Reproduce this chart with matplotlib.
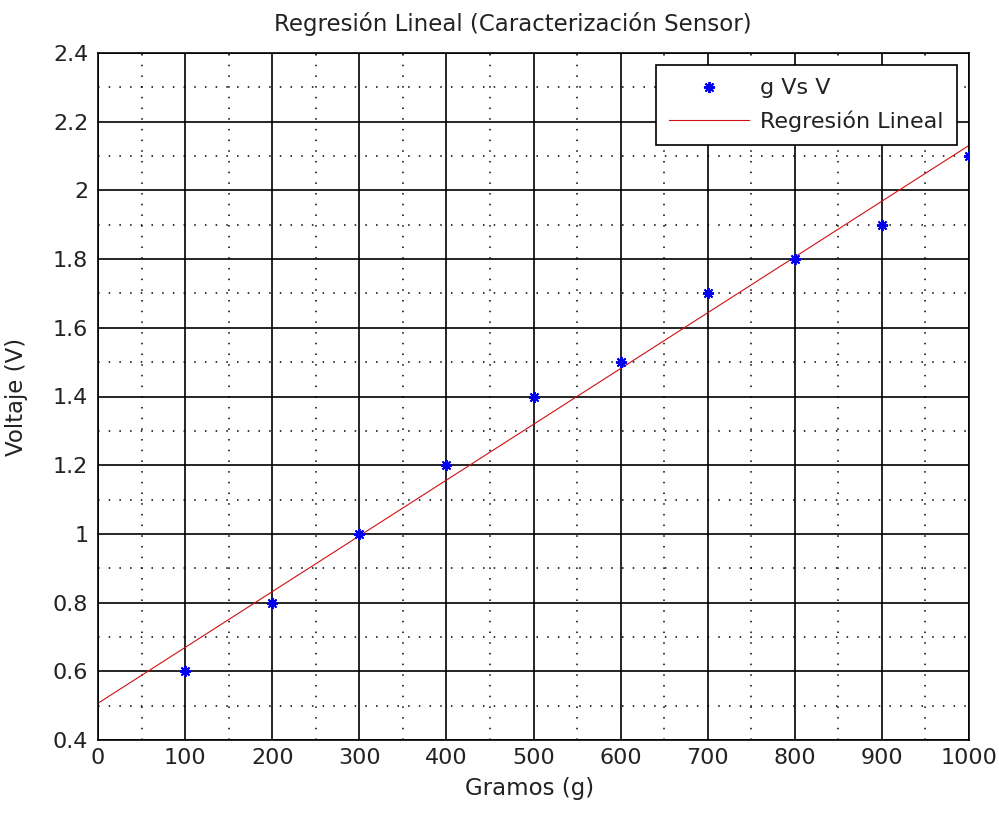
import numpy as np
import matplotlib
matplotlib.use('Agg')
import matplotlib.pyplot as plt
from matplotlib.ticker import MultipleLocator

plt.rcParams['font.family'] = ['DejaVu Sans']

# measured points
gramos = [100, 200, 300, 400, 500, 600, 700, 800, 900, 1000]
voltaje = [0.6, 0.8, 1.0, 1.2, 1.4, 1.5, 1.7, 1.8, 1.9, 2.1]

# regression line end points
fit_x = [0, 1000]
fit_y = [0.507, 2.131]

ytick_vals = [0.4, 0.6, 0.8, 1.0, 1.2, 1.4, 1.6, 1.8, 2.0, 2.2, 2.4]
ytick_text = ['0.4', '0.6', '0.8', '1', '1.2', '1.4', '1.6', '1.8', '2', '2.2', '2.4']

fig = plt.figure(figsize=(9.99, 8.14), dpi=100)
ax = fig.add_axes([98/999, 1 - 740/814, 871/999, 687/814])

ax.plot(gramos, voltaje, linestyle='none', marker=(8, 2, 0), markersize=8,
        markeredgewidth=1.4, color='#0000ee', label='g Vs V', zorder=3)
ax.plot(fit_x, fit_y, color='#d01010', linewidth=0.8, label='Regresión Lineal', zorder=2)

ax.set_xlim(0, 1000)
ax.set_ylim(0.4, 2.4)
ax.xaxis.set_major_locator(MultipleLocator(100))
ax.xaxis.set_minor_locator(MultipleLocator(50))
ax.set_yticks(ytick_vals)
ax.set_yticklabels(ytick_text)
ax.yaxis.set_minor_locator(MultipleLocator(0.1))

ax.grid(which='major', color='black', linestyle='-', linewidth=1.2)
ax.grid(which='minor', color='black', linestyle=(0, (1, 6)), linewidth=1.1)
ax.tick_params(which='both', direction='in', length=0, labelsize=16, labelcolor='#222222')
ax.tick_params(axis='x', pad=6)
ax.tick_params(axis='y', pad=7)
for s in ax.spines.values():
    s.set_linewidth(1.2)

ax.set_title('Regresión Lineal (Caracterización Sensor)', fontsize=16.5, pad=16,
             x=0.476, color='#222222')
ax.set_xlabel('Gramos (g)', fontsize=16.5, labelpad=6, x=0.495, color='#222222')
ax.set_ylabel('Voltaje (V)', fontsize=16.5, labelpad=18, color='#222222')

leg = ax.legend(loc='upper right', bbox_to_anchor=(0.9862, 0.9825), borderaxespad=0,
                fontsize=16, frameon=True, fancybox=False, edgecolor='black',
                framealpha=1, handlelength=3.6, handletextpad=0.5,
                borderpad=0.6, labelspacing=0.55)
leg.get_frame().set_linewidth(1.2)
for t in leg.get_texts():
    t.set_color('#222222')

fig.savefig('out.png', dpi=100)
